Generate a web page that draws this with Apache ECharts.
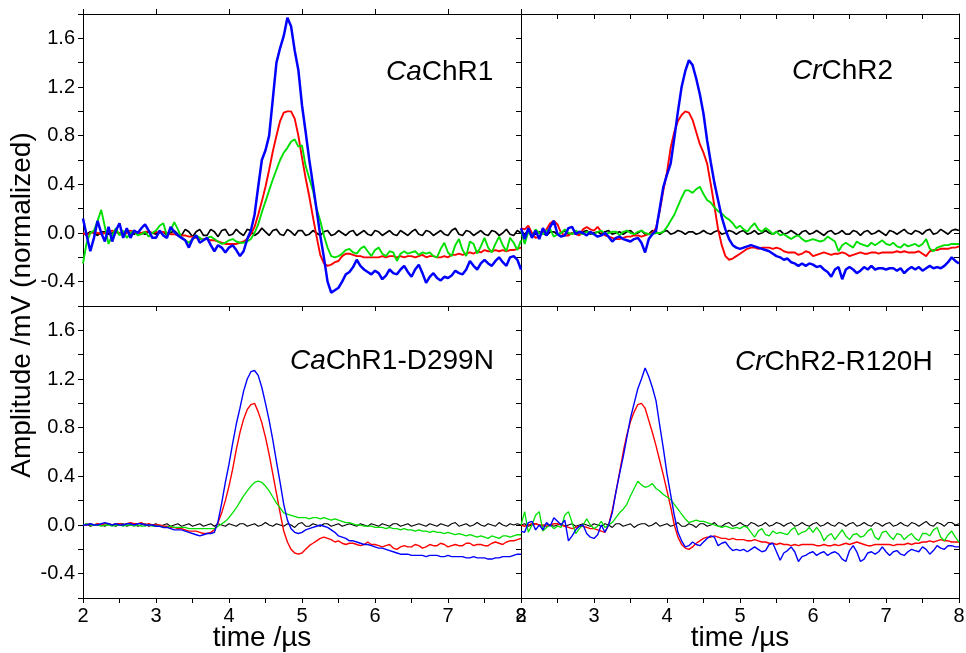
<!DOCTYPE html>
<html>
<head>
<meta charset="utf-8">
<script src="https://cdn.jsdelivr.net/npm/echarts@6/dist/echarts.min.js"></script>
<style>
  html, body { margin: 0; padding: 0; background: #fff; }
  #chart { width: 966px; height: 653px; }
</style>
</head>
<body>
<div id="chart"></div>
<script>
// sampling grid: 2.00 .. 8.00 us, step 0.05 (121 points per trace)
const tStart = 2, tStep = 0.05, nPts = 121;
const time = [];
for (let i = 0; i < nPts; i++) time.push(+(tStart + i * tStep).toFixed(2));

const panelNames = ['{i|Ca}ChR1', '{i|Cr}ChR2', '{i|Ca}ChR1-D299N', '{i|Cr}ChR2-R120H'];
const xTicks = [2, 3, 4, 5, 6, 7, 8];
const yTicks = [-0.4, 0.0, 0.4, 0.8, 1.2, 1.6];

// ---- CaChR1 (top left)
const caBlack = [
  0, -0.01, 0.01, 0, -0.02, 0.01, 0.01, -0.01, 0, 0.01, -0.01, 0, 0.02, -0.01, -0.01, 0.01, 0, -0.01, 0.01, 0,
  -0.01, 0.01, 0.01, -0.02, 0, 0.02, -0.01, -0.02, 0.03, 0.01, -0.03, 0.01, 0.03, -0.02, -0.02, 0.03, 0.01, -0.03, 0.02, 0.03,
  -0.02, -0.01, 0.03, 0, -0.02, 0.03, 0.02, -0.02, 0, 0.04, 0.01, -0.02, 0.02, 0.03, -0.01, -0.02, 0.03, 0.01, -0.02, 0.02,
  0.02, -0.02, -0.01, 0.02, 0, -0.02, 0.01, 0.02, -0.02, -0.01, 0.02, 0, -0.02, 0.01, 0.02, -0.02, 0, 0.02, -0.01, -0.02,
  0.02, 0.01, -0.02, 0, 0.02, -0.01, -0.02, 0.02, 0, -0.02, 0.01, 0.03, -0.01, -0.02, 0.02, 0.01, -0.02, 0, 0.02, -0.01,
  -0.02, 0.02, 0.04, -0.01, -0.02, 0.02, 0.01, -0.02, 0, 0.02, -0.01, -0.02, 0.02, 0.01, -0.02, 0, 0.03, -0.01, -0.02, 0.02,
  0
];
const caRed = [
  0, -0.02, 0, 0.01, 0, -0.01, 0, 0.01, 0.02, 0.01, 0, -0.01, 0, 0.02, 0.01, 0, 0, 0.01, 0.01, 0,
  0.01, 0, 0.01, 0, -0.01, -0.01, -0.02, -0.02, -0.02, -0.03, -0.03, -0.04, -0.05, -0.05, -0.05, -0.06, -0.06, -0.07, -0.08, -0.09,
  -0.09, -0.09, -0.09, -0.08, -0.07, -0.05, -0.01, 0.05, 0.15, 0.26, 0.38, 0.52, 0.67, 0.8, 0.92, 0.99, 1.0, 1.0, 0.94, 0.8,
  0.62, 0.45, 0.3, 0.13, -0.03, -0.18, -0.25, -0.27, -0.26, -0.24, -0.23, -0.19, -0.17, -0.17, -0.18, -0.19, -0.19, -0.2, -0.2, -0.2,
  -0.2, -0.2, -0.19, -0.2, -0.19, -0.19, -0.2, -0.19, -0.2, -0.19, -0.19, -0.2, -0.19, -0.18, -0.2, -0.19, -0.19, -0.2, -0.2, -0.19,
  -0.2, -0.18, -0.18, -0.17, -0.18, -0.17, -0.16, -0.17, -0.15, -0.16, -0.14, -0.15, -0.15, -0.14, -0.15, -0.14, -0.15, -0.14, -0.14, -0.13,
  -0.12
];
const caGreen = [
  -0.25, -0.08, 0, 0.02, 0.1, 0.19, 0.05, -0.09, -0.02, 0.04, -0.02, 0.02, -0.04, 0, 0.02, -0.02, -0.01, 0.01, -0.03, 0,
  0.02, 0.06, 0.08, -0.02, 0.02, 0.09, 0.03, -0.04, -0.06, -0.08, -0.05, -0.02, -0.04, -0.06, -0.04, -0.03, -0.05, -0.07, -0.09, -0.08,
  -0.06, -0.05, -0.07, -0.08, -0.08, -0.07, -0.05, 0, 0.07, 0.17, 0.26, 0.35, 0.44, 0.52, 0.6, 0.66, 0.7, 0.75, 0.77, 0.71,
  0.72, 0.55, 0.45, 0.35, 0.2, 0.1, -0.02, -0.12, -0.19, -0.2, -0.19, -0.17, -0.14, -0.13, -0.16, -0.17, -0.13, -0.11, -0.15, -0.19,
  -0.14, -0.12, -0.17, -0.19, -0.15, -0.16, -0.23, -0.17, -0.15, -0.17, -0.16, -0.15, -0.18, -0.16, -0.17, -0.16, -0.19, -0.2, -0.13, -0.08,
  -0.16, -0.19, -0.1, -0.05, -0.14, -0.19, -0.07, -0.09, -0.17, -0.11, -0.04, -0.12, -0.16, -0.09, -0.03, -0.1, -0.15, -0.04, -0.08, -0.14,
  -0.06
];
const caBlue = [
  0.12, -0.02, -0.15, -0.04, 0.1, 0, -0.07, 0.05, -0.07, 0.02, 0.08, -0.04, 0.04, -0.04, 0.02, 0, 0.04, 0.07, 0.02, -0.04,
  -0.04, 0.02, -0.02, -0.04, 0.05, 0.01, -0.02, -0.04, -0.06, -0.12, -0.05, -0.02, -0.08, -0.06, -0.04, -0.1, -0.15, -0.1, -0.12, -0.16,
  -0.12, -0.1, -0.14, -0.19, -0.15, -0.05, 0.02, 0.15, 0.38, 0.6, 0.68, 0.8, 1.1, 1.4, 1.52, 1.62, 1.77, 1.7, 1.5, 1.34,
  1.05, 0.83, 0.6, 0.4, 0.19, -0.02, -0.2, -0.4, -0.49, -0.47, -0.45, -0.4, -0.34, -0.32, -0.28, -0.22, -0.27, -0.3, -0.32, -0.34,
  -0.31, -0.33, -0.38, -0.35, -0.3, -0.33, -0.34, -0.3, -0.27, -0.32, -0.36, -0.3, -0.26, -0.33, -0.41, -0.36, -0.33, -0.37, -0.39, -0.36,
  -0.37, -0.35, -0.31, -0.33, -0.34, -0.3, -0.23, -0.27, -0.3, -0.25, -0.22, -0.25, -0.27, -0.23, -0.2, -0.24, -0.27, -0.2, -0.19, -0.22,
  -0.3
];

// ---- CrChR2 (top right)
const crBlack = [
  0.01, -0.01, 0.02, 0, -0.01, 0.01, 0, -0.02, 0.01, 0.01, -0.01, 0, 0.02, -0.01, 0, 0.01, -0.01, 0.01, 0.02, -0.01,
  0, 0.01, -0.01, 0.01, 0.02, -0.01, 0, 0.01, -0.01, 0.01, 0.02, -0.01, 0, 0.02, -0.01, -0.01, 0.02, 0.01, -0.01, 0.01,
  0.02, -0.01, 0, 0.02, 0.01, -0.01, 0.01, 0.01, -0.01, 0, 0.02, 0, -0.01, 0.01, 0.02, -0.01, 0, 0.02, 0.01, -0.01,
  0.01, 0.02, -0.01, 0, 0.02, -0.01, 0, 0.02, 0, -0.01, 0.01, 0.02, -0.01, 0, 0.02, 0, -0.02, 0.01, 0.02, -0.01,
  0, 0.02, 0, -0.02, 0.01, 0.02, -0.01, 0, 0.02, -0.01, -0.01, 0.02, 0.01, -0.02, 0.01, 0.02, -0.01, 0, 0.02, 0,
  -0.02, 0.02, 0.01, -0.01, 0.01, 0.03, 0, -0.01, 0.02, 0.01, -0.01, 0.02, 0.03, -0.01, 0, 0.03, 0.01, -0.01, 0.02, 0.03,
  0.02
];
const crRed = [
  0.04, 0.03, 0.06, 0, -0.04, -0.03, 0, 0.03, 0.08, 0.1, 0.07, 0, -0.02, -0.02, 0, -0.01, -0.02, 0.03, 0.05, 0.03,
  0.02, 0.05, 0.01, -0.02, -0.03, -0.04, -0.05, -0.05, -0.04, -0.03, -0.03, -0.02, -0.02, -0.03, -0.02, -0.01, 0, 0.04, 0.18, 0.35,
  0.5, 0.7, 0.83, 0.92, 0.97, 1.0, 0.99, 0.93, 0.83, 0.73, 0.66, 0.57, 0.4, 0.22, 0.03, -0.1, -0.19, -0.22, -0.21, -0.19,
  -0.17, -0.15, -0.13, -0.12, -0.12, -0.13, -0.12, -0.12, -0.12, -0.13, -0.12, -0.13, -0.15, -0.16, -0.16, -0.16, -0.18, -0.17, -0.15, -0.16,
  -0.19, -0.18, -0.17, -0.16, -0.17, -0.18, -0.17, -0.17, -0.16, -0.17, -0.19, -0.18, -0.17, -0.16, -0.17, -0.17, -0.16, -0.16, -0.17, -0.16,
  -0.16, -0.16, -0.16, -0.15, -0.16, -0.15, -0.16, -0.16, -0.16, -0.15, -0.17, -0.19, -0.15, -0.14, -0.14, -0.13, -0.13, -0.13, -0.12, -0.12,
  -0.11
];
const crGreen = [
  0.02, -0.09, 0.01, -0.03, 0.03, 0, -0.01, 0.02, 0.03, -0.03, -0.01, 0, 0.03, 0, -0.01, 0.02, 0, -0.01, 0.01, 0,
  -0.01, 0.01, 0.02, -0.01, 0, 0.01, 0.01, -0.02, 0.01, 0.02, 0, -0.01, 0.01, 0.02, 0, -0.01, -0.01, 0, 0, 0.01,
  0.05, 0.1, 0.15, 0.22, 0.29, 0.35, 0.35, 0.33, 0.36, 0.38, 0.32, 0.27, 0.25, 0.21, 0.18, 0.16, 0.13, 0.11, 0.08, 0.04,
  0.06, 0.03, 0.01, 0.05, 0.08, 0.03, 0.01, 0.04, 0.02, -0.01, 0.01, -0.02, -0.01, -0.03, -0.05, -0.03, -0.02, -0.05, -0.07, -0.06,
  -0.05, -0.06, -0.07, -0.06, -0.03, -0.05, -0.07, -0.15, -0.1, -0.08, -0.1, -0.12, -0.07, -0.09, -0.1, -0.11, -0.08, -0.1, -0.08, -0.06,
  -0.09, -0.1, -0.08, -0.11, -0.12, -0.09, -0.11, -0.1, -0.09, -0.11, -0.09, -0.05, -0.13, -0.15, -0.12, -0.11, -0.1, -0.1, -0.09, -0.09,
  -0.09
];
const crBlue = [
  0.04, -0.05, 0.04, -0.04, 0.02, -0.05, 0.04, -0.02, 0.05, 0.1, -0.01, -0.03, -0.02, 0.04, 0.05, -0.01, 0.01, 0, -0.02, 0.01,
  -0.01, -0.03, -0.02, 0, -0.03, -0.07, -0.04, -0.03, -0.05, -0.06, -0.07, -0.05, -0.04, -0.08, -0.16, -0.05, -0.01, 0.02, 0.2, 0.38,
  0.48, 0.57, 0.78, 1.0, 1.2, 1.33, 1.42, 1.38, 1.27, 1.14, 0.98, 0.76, 0.58, 0.41, 0.27, 0.13, 0.03, -0.05, -0.1, -0.12,
  -0.13, -0.12, -0.11, -0.1, -0.11, -0.12, -0.13, -0.14, -0.15, -0.17, -0.19, -0.2, -0.22, -0.21, -0.24, -0.25, -0.27, -0.25, -0.27, -0.25,
  -0.26, -0.28, -0.27, -0.3, -0.32, -0.36, -0.3, -0.28, -0.38, -0.3, -0.28, -0.3, -0.33, -0.31, -0.28, -0.3, -0.27, -0.3, -0.29, -0.29,
  -0.3, -0.29, -0.29, -0.31, -0.29, -0.33, -0.3, -0.28, -0.3, -0.28, -0.31, -0.29, -0.27, -0.29, -0.28, -0.29, -0.27, -0.24, -0.2, -0.23,
  -0.25
];

// ---- CaChR1-D299N (bottom left)
const cadBlack = [
  0, 0.01, -0.01, 0, 0.01, 0, -0.01, 0.01, 0, -0.01, 0.01, 0.01, -0.01, 0, 0.01, -0.01, 0, 0.01, -0.01, 0,
  0.01, -0.01, 0, 0.01, -0.01, 0, 0.01, -0.01, 0, 0.01, -0.01, 0, 0.01, -0.01, 0, 0.01, -0.01, 0.01, 0, -0.01,
  0.01, 0, -0.01, 0.01, 0.01, -0.01, 0, 0.01, -0.01, 0, 0.02, 0, -0.01, 0.01, 0, -0.01, 0.01, 0, -0.02, 0.01,
  0.02, -0.01, -0.01, 0.01, 0, -0.01, 0.01, 0.01, -0.01, 0, 0.01, -0.01, 0, 0.01, 0, -0.01, 0.01, 0, -0.01, 0.01,
  0, -0.01, 0.01, 0, -0.01, 0.01, 0.01, -0.01, 0, 0.01, -0.01, 0, 0.01, 0, -0.01, 0.01, 0, -0.01, 0.01, 0,
  -0.01, 0.01, 0.02, -0.01, 0, 0.01, -0.01, 0, 0.02, 0, -0.01, 0.01, 0, -0.01, 0.02, 0, -0.01, 0.01, 0, 0.01,
  0
];
const cadRed = [
  0, 0, 0.01, 0, 0.01, 0, 0.01, 0.01, 0, 0.01, 0.01, 0, 0.01, 0.02, 0.01, 0.01, 0.02, 0, 0.01, 0,
  0, 0, -0.01, -0.01, -0.02, -0.02, -0.03, -0.03, -0.04, -0.05, -0.05, -0.05, -0.06, -0.07, -0.07, -0.06, -0.04, 0.02, 0.1, 0.2,
  0.32, 0.46, 0.62, 0.76, 0.87, 0.95, 0.99, 1.0, 0.93, 0.84, 0.72, 0.58, 0.42, 0.26, 0.1, -0.05, -0.14, -0.2, -0.23, -0.24,
  -0.23, -0.2, -0.17, -0.15, -0.13, -0.11, -0.1, -0.11, -0.12, -0.14, -0.13, -0.15, -0.16, -0.15, -0.15, -0.16, -0.17, -0.16, -0.14, -0.16,
  -0.16, -0.17, -0.18, -0.17, -0.16, -0.19, -0.2, -0.18, -0.17, -0.18, -0.18, -0.16, -0.17, -0.19, -0.18, -0.16, -0.17, -0.17, -0.15, -0.16,
  -0.18, -0.17, -0.16, -0.17, -0.17, -0.15, -0.15, -0.17, -0.16, -0.16, -0.17, -0.17, -0.15, -0.14, -0.15, -0.16, -0.14, -0.13, -0.13, -0.12,
  -0.11
];
const cadGreen = [
  0, 0.01, 0, 0, 0, -0.01, 0, 0, -0.01, 0, 0, -0.01, 0, 0, -0.01, 0, -0.01, -0.01, 0, -0.01,
  -0.01, -0.01, -0.02, -0.02, -0.01, -0.02, -0.02, -0.02, -0.02, -0.03, -0.03, -0.03, -0.03, -0.03, -0.03, -0.03, -0.03, -0.01, 0.01, 0.03,
  0.06, 0.1, 0.14, 0.19, 0.24, 0.28, 0.32, 0.35, 0.36, 0.35, 0.32, 0.28, 0.23, 0.18, 0.14, 0.1, 0.09, 0.08, 0.07, 0.06,
  0.06, 0.06, 0.05, 0.06, 0.06, 0.05, 0.06, 0.05, 0.04, 0.05, 0.04, 0.03, 0.02, 0.02, 0.01, 0, 0, -0.01, -0.01, -0.01,
  -0.02, -0.02, -0.02, -0.03, -0.02, -0.03, -0.03, -0.04, -0.03, -0.04, -0.04, -0.05, -0.04, -0.05, -0.05, -0.06, -0.05, -0.06, -0.06, -0.07,
  -0.06, -0.07, -0.08, -0.07, -0.08, -0.09, -0.08, -0.09, -0.1, -0.09, -0.1, -0.11, -0.09, -0.1, -0.11, -0.09, -0.09, -0.1, -0.09, -0.08,
  -0.08
];
const cadBlue = [
  0, 0, 0.01, 0, 0, 0.01, 0.02, 0.01, 0, 0.01, 0, 0, 0.01, 0.01, 0, 0.01, 0.01, 0, 0, 0,
  -0.01, -0.01, -0.02, -0.02, -0.03, -0.04, -0.04, -0.04, -0.05, -0.06, -0.07, -0.08, -0.09, -0.08, -0.07, -0.07, -0.06, 0.03, 0.18, 0.35,
  0.5, 0.67, 0.83, 0.96, 1.1, 1.2, 1.26, 1.27, 1.23, 1.13, 1.0, 0.86, 0.7, 0.52, 0.35, 0.17, 0.04, -0.03, -0.06, -0.07,
  -0.06, -0.04, -0.03, -0.02, -0.01, 0, -0.01, -0.02, -0.04, -0.06, -0.09, -0.1, -0.11, -0.13, -0.13, -0.14, -0.15, -0.16, -0.16, -0.17,
  -0.18, -0.19, -0.19, -0.2, -0.21, -0.22, -0.23, -0.24, -0.24, -0.24, -0.25, -0.25, -0.25, -0.25, -0.26, -0.25, -0.25, -0.25, -0.26, -0.26,
  -0.25, -0.26, -0.26, -0.26, -0.26, -0.27, -0.27, -0.26, -0.27, -0.27, -0.27, -0.28, -0.28, -0.27, -0.27, -0.26, -0.26, -0.26, -0.25, -0.24,
  -0.24
];

// ---- CrChR2-R120H (bottom right)
const crrBlack = [
  0, 0.01, -0.01, 0, 0.01, 0, -0.01, 0.01, 0, -0.01, 0, 0.01, -0.01, 0, 0.01, -0.01, 0, 0.01, 0, -0.01,
  0.01, 0, -0.01, 0.01, 0, -0.02, 0.01, 0.01, -0.01, 0, 0.01, -0.02, 0, 0.01, 0.01, -0.01, 0, 0.02, -0.01, 0,
  0.01, -0.01, 0, 0.02, -0.01, -0.01, 0.01, 0, -0.02, 0.01, 0.01, -0.01, 0, 0.02, -0.01, -0.01, 0.01, 0.02, -0.01, 0,
  0.02, 0, -0.01, 0.02, 0.01, -0.01, 0, 0.02, -0.01, 0, 0.02, 0.01, -0.01, 0.01, 0.02, -0.01, 0, 0.02, 0, -0.01,
  0.01, 0.02, -0.01, 0, 0.02, 0, -0.01, 0.02, 0.01, -0.01, 0.01, 0.02, -0.01, 0, 0.02, 0, -0.01, 0.02, 0.01, -0.01,
  0.01, 0.02, -0.01, 0, 0.02, 0, -0.01, 0.02, 0.01, -0.01, 0.01, 0.03, 0, -0.01, 0.02, 0.01, -0.01, 0.02, 0.02, 0,
  0.01
];
const crrRed = [
  0, -0.01, 0, 0.01, 0.01, 0, 0, -0.01, 0, 0.01, 0.01, 0, -0.01, -0.02, -0.03, -0.02, -0.01, -0.01, -0.02, -0.03,
  -0.03, -0.04, -0.05, -0.06, 0, 0.12, 0.27, 0.43, 0.6, 0.74, 0.85, 0.93, 0.99, 1.0, 0.96, 0.86, 0.76, 0.65, 0.53, 0.41,
  0.28, 0.15, 0, -0.1, -0.16, -0.19, -0.2, -0.18, -0.15, -0.13, -0.11, -0.1, -0.1, -0.09, -0.1, -0.11, -0.11, -0.12, -0.11, -0.12,
  -0.12, -0.12, -0.13, -0.13, -0.12, -0.13, -0.14, -0.14, -0.15, -0.15, -0.16, -0.15, -0.16, -0.16, -0.17, -0.16, -0.17, -0.16, -0.16, -0.16,
  -0.16, -0.17, -0.17, -0.16, -0.17, -0.17, -0.16, -0.17, -0.16, -0.15, -0.16, -0.15, -0.14, -0.15, -0.16, -0.17, -0.17, -0.16, -0.16, -0.16,
  -0.16, -0.16, -0.17, -0.16, -0.16, -0.16, -0.15, -0.16, -0.15, -0.15, -0.14, -0.14, -0.13, -0.14, -0.13, -0.12, -0.13, -0.13, -0.14, -0.14,
  -0.14
];
const crrGreen = [
  0, 0.11, -0.06, 0, 0.08, 0.11, -0.05, -0.02, 0, -0.03, -0.01, -0.02, 0.08, 0.11, 0.02, -0.07, -0.03, 0, 0.05, 0,
  -0.03, -0.01, 0.03, -0.02, 0, 0.02, 0.06, 0.1, 0.13, 0.17, 0.24, 0.3, 0.36, 0.33, 0.31, 0.32, 0.34, 0.3, 0.28, 0.25,
  0.23, 0.21, 0.17, 0.13, 0.09, 0.05, 0.02, 0.03, 0.04, 0.03, 0.03, 0.02, 0.01, 0, -0.01, -0.02, -0.01, -0.02, -0.03, -0.02,
  -0.03, -0.01, -0.02, -0.06, -0.1, -0.05, -0.03, -0.08, -0.09, -0.05, -0.07, -0.06, -0.07, -0.08, -0.04, -0.02, -0.08, -0.06, -0.05, -0.02,
  -0.06, -0.02, -0.06, -0.13, -0.09, -0.07, -0.12, -0.08, -0.04, -0.09, -0.12, -0.08, -0.07, -0.1, -0.09, -0.05, -0.03, -0.1, -0.12, -0.06,
  -0.05, -0.09, -0.12, -0.07, -0.08, -0.12, -0.09, -0.07, -0.11, -0.13, -0.07, -0.07, -0.09, -0.04, -0.02, -0.1, -0.13, -0.08, -0.05, -0.1,
  -0.14
];
const crrBlue = [
  -0.05, -0.06, 0.02, 0.03, -0.04, 0, -0.04, 0.02, -0.01, 0.06, 0.03, 0, 0.04, -0.13, -0.09, -0.04, -0.01, 0, -0.07, -0.1,
  -0.11, -0.08, 0, -0.06, 0, 0.1, 0.27, 0.42, 0.56, 0.72, 0.88, 1.0, 1.12, 1.2, 1.29, 1.22, 1.13, 1.02, 0.82, 0.63,
  0.42, 0.25, 0.08, -0.06, -0.13, -0.18, -0.17, -0.14, -0.16, -0.17, -0.14, -0.11, -0.09, -0.1, -0.17, -0.15, -0.14, -0.18, -0.21, -0.2,
  -0.21, -0.2, -0.22, -0.2, -0.18, -0.2, -0.22, -0.21, -0.16, -0.15, -0.22, -0.29, -0.23, -0.21, -0.18, -0.22, -0.3, -0.26, -0.25, -0.23,
  -0.22, -0.25, -0.23, -0.22, -0.25, -0.23, -0.22, -0.24, -0.28, -0.3, -0.21, -0.17, -0.22, -0.3, -0.28, -0.23, -0.22, -0.24, -0.22, -0.18,
  -0.22, -0.25, -0.22, -0.21, -0.24, -0.25, -0.22, -0.2, -0.21, -0.22, -0.18, -0.2, -0.24, -0.21, -0.17, -0.19, -0.2, -0.17, -0.17, -0.18,
  -0.18
];

const traces = [
  [caBlack, caRed, caGreen, caBlue],
  [crBlack, crRed, crGreen, crBlue],
  [cadBlack, cadRed, cadGreen, cadBlue],
  [crrBlack, crrRed, crrGreen, crrBlue]
];
traces.forEach((p, i) => p.forEach((s, j) => {
  if (s.length !== nPts) throw new Error('panel ' + i + ' trace ' + j + ' has ' + s.length + ' points');
}));

const colors = ['#000000', '#ff0000', '#00e000', '#0000ff'];
const font = 'Liberation Sans, Arial, sans-serif';

const grids = [
  { left: 83, top: 14, width: 438, height: 292 },
  { left: 521, top: 14, width: 438, height: 292 },
  { left: 83, top: 306, width: 438, height: 292 },
  { left: 521, top: 306, width: 438, height: 292 }
];

// tick setup per panel: [bottom, top, left, right]
const tickSetup = [
  { xb: [1, false, false], xt: [1, false], yl: [true, false, true], yr: false },
  { xb: [0.5, false, false], xt: [0.5, true], yl: [true, false, false], yr: true },
  { xb: [0.5, false, true], xt: null, yl: [true, false, true], yr: false },
  { xb: [0.5, false, true], xt: null, yl: [true, false, false], yr: true }
];

function xAxisOf(g, position, interval, inside, labels, ticks) {
  return {
    type: 'value', gridIndex: g, position: position, min: 2, max: 8, interval: interval,
    axisLine: { show: true, onZero: false, lineStyle: { color: '#000', width: 1 } },
    axisTick: { show: ticks, inside: inside, length: 5, lineStyle: { color: '#000', width: 1 } },
    axisLabel: {
      show: labels, margin: 8, color: '#000', fontSize: 20, fontFamily: font,
      formatter: v => xTicks.indexOf(Math.round(v * 100) / 100) >= 0 ? String(v) : ''
    },
    splitLine: { show: false }
  };
}
function yAxisOf(g, position, inside, labels, ticks) {
  return {
    type: 'value', gridIndex: g, position: position, min: -0.6, max: 1.8, interval: 0.2,
    axisLine: { show: true, onZero: false, lineStyle: { color: '#000', width: 1 } },
    axisTick: { show: ticks, inside: inside, length: 5, lineStyle: { color: '#000', width: 1 } },
    axisLabel: {
      show: labels, margin: 8, color: '#000', fontSize: 20, fontFamily: font,
      formatter: v => {
        const r = Math.round(v * 100) / 100;
        return yTicks.indexOf(r) >= 0 ? r.toFixed(1) : '';
      }
    },
    splitLine: { show: false }
  };
}

const xAxes = [], yAxes = [], series = [];
grids.forEach((gr, g) => {
  const ts = tickSetup[g];
  xAxes.push(xAxisOf(g, 'bottom', ts.xb[0], ts.xb[1], ts.xb[2], true));
  xAxes.push(ts.xt ? xAxisOf(g, 'top', ts.xt[0], ts.xt[1], false, true)
                   : xAxisOf(g, 'top', 1, false, false, false));
  yAxes.push(yAxisOf(g, 'left', ts.yl[1], ts.yl[2], true));
  yAxes.push(yAxisOf(g, 'right', true, false, ts.yr));
  const wide = g < 2;
  const widths = wide ? [1.7, 1.9, 1.9, 2.5] : [1.1, 1.4, 1.3, 1.4];
  traces[g].forEach((vals, j) => {
    series.push({
      type: 'line', xAxisIndex: g * 2, yAxisIndex: g * 2,
      data: time.map((t, i) => [t, vals[i]]),
      symbol: 'none', showSymbol: false, silent: true,
      lineStyle: { color: colors[j], width: widths[j] },
      itemStyle: { color: colors[j] },
      z: 2 + j
    });
  });
});

const titleSpots = [
  { x: 386, y: 72 }, { x: 792, y: 71 }, { x: 290, y: 361 }, { x: 735, y: 362 }
];
const graphics = titleSpots.map((p, k) => ({
  type: 'text', x: p.x, y: p.y, z: 100,
  style: {
    text: panelNames[k], font: '28px ' + font, fill: '#000',
    align: 'left', verticalAlign: 'middle',
    rich: { i: { fontStyle: 'italic', fontSize: 28, fontFamily: font, fill: '#000', color: '#000' } }
  }
}));
graphics.push({
  type: 'text', x: 262, y: 638, z: 100,
  style: { text: 'time /\u00b5s', font: '28px ' + font, fill: '#000', align: 'center', verticalAlign: 'middle' }
});
graphics.push({
  type: 'text', x: 740, y: 638, z: 100,
  style: { text: 'time /\u00b5s', font: '28px ' + font, fill: '#000', align: 'center', verticalAlign: 'middle' }
});
graphics.push({
  type: 'text', x: 22, y: 305, rotation: Math.PI / 2, z: 100,
  style: { text: 'Amplitude /mV (normalized)', font: '28px ' + font, fill: '#000', align: 'center', verticalAlign: 'middle' }
});

const chart = echarts.init(document.getElementById('chart'), null, { renderer: 'canvas' });
chart.setOption({
  animation: false,
  backgroundColor: '#ffffff',
  grid: grids.map(g => Object.assign({ containLabel: false, outerBoundsMode: 'none' }, g)),
  xAxis: xAxes,
  yAxis: yAxes,
  series: series,
  graphic: graphics
});
</script>
</body>
</html>
